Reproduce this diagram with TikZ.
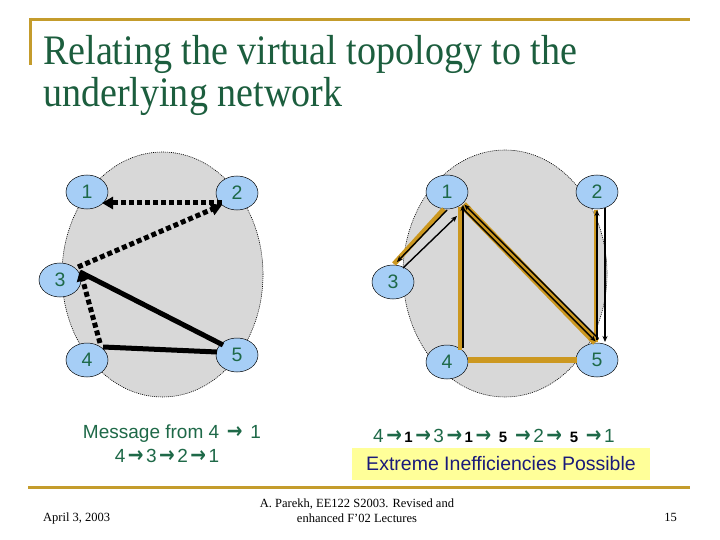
\documentclass[tikz,border=0pt]{standalone}
\usepackage{graphicx}
\usepackage{fontspec}
\setmainfont{Liberation Serif}
\setsansfont{Liberation Sans}
\newfontfamily\arialf{Liberation Sans}
\newfontfamily\dejavuf{DejaVu Sans}
\usetikzlibrary{arrows.meta,calc,shapes.geometric}
\definecolor{ttlgreen}{RGB}{28,94,62}
\definecolor{lblgreen}{RGB}{30,105,72}
\definecolor{slidegold}{RGB}{196,156,44}
\definecolor{linkgold}{RGB}{204,152,32}
\definecolor{nodeblue}{RGB}{166,206,246}
\definecolor{cloudgray}{RGB}{216,216,216}
\definecolor{navyblue}{RGB}{26,26,122}
\definecolor{hiyellow}{RGB}{255,255,153}
\newcommand{\bk}[1]{{\color{black}\bfseries\fontsize{15}{15}\selectfont #1}}
\newcommand{\ra}{\hspace{2.5pt}\scalebox{1.1}[1.3]{\dejavuf\bfseries\fontsize{17}{17}\selectfont →}\hspace{2.5pt}}
\begin{document}
\begin{tikzpicture}[x=1pt,y=-1pt,
  netnode/.style={ellipse,draw=black,line width=0.5pt,fill=nodeblue,minimum width=42pt,minimum height=34pt,inner sep=0pt,font=\arialf\fontsize{19.5}{19.5}\selectfont,text=lblgreen},
  cloud/.style={ellipse,draw=black,dash pattern=on 1pt off 1pt,line width=0.6pt,fill=cloudgray,inner sep=0pt},
  vdot/.style={line width=5pt,dash pattern=on 5pt off 3pt,-{Triangle[length=11pt,width=12pt]}},
  vsolid/.style={line width=5pt},
  phys/.style={draw=linkgold},
  hop/.style={line width=1.4pt,-{Stealth[length=6pt,width=5pt]}},
  lbl/.style={inner sep=0pt,font=\arialf\fontsize{19}{19}\selectfont,text=lblgreen},
  foot/.style={inner sep=0pt,font=\fontsize{12.5}{13}\selectfont,text=black},
  rule/.style={draw=slidegold,line width=3pt}
]
\useasboundingbox[fill=white] (0,0) rectangle (720,540);

% slide decoration
\draw[rule] (29,19.5) -- (690,19.5);
\draw[rule] (30.5,18) -- (30.5,65);
\draw[rule] (28,487) -- (690,487);

% title
\node[anchor=base west,inner sep=0pt,text=ttlgreen] (t1) at (43,65)
  {\resizebox{534pt}{\height}{\fontsize{42}{42}\selectfont Relating the virtual topology to the}};
\node[anchor=base west,inner sep=0pt,text=ttlgreen] (t2) at (43,107)
  {\resizebox{299pt}{\height}{\fontsize{42}{42}\selectfont underlying network}};

% clouds
\node[cloud,minimum width=201pt,minimum height=245pt] (cl) at (162.5,274.5) {};
\node[cloud,minimum width=204pt,minimum height=247pt] (cr) at (505,273.5) {};

% left nodes
\node[netnode] (L1) at (87,192) {1};
\node[netnode] (L2) at (237,193) {2};
\node[netnode] (L3) at (60,280) {3};
\node[netnode] (L4) at (87,360) {4};
\node[netnode] (L5) at (237,355) {5};

% right nodes
\node[netnode] (R1) at (447,192) {1};
\node[netnode] (R2) at (597,192) {2};
\node[netnode] (R3) at (393,282) {3};
\node[netnode] (R4) at (447,362) {4};
\node[netnode] (R5) at (597,360) {5};

% left virtual links
\draw[vsolid] ($(L5)+(-14,-10)$) -- ($(L3)+(20,-8)$);
\draw[vsolid] ($(L4)+(16,-13)$) -- ($(L5)+(-20,-3)$);
\draw[vdot] ($(L2)+(-15,10)$) -- ($(L1)+(15,11)$);
\draw[vdot] ($(L3)+(18,-13)$) -- ($(L2)+(-15,12)$);
\draw[vdot] ($(L4)+(13,-17)$) -- ($(L3)+(20,-10)$);

% right physical links
\draw[phys,line width=5pt] ($(R1)+(-3,17)$) -- ($(R3)+(1,-18)$);
\draw[phys,line width=4pt] ($(R1)+(13,15)$) -- ($(R4)+(13,-12)$);
\draw[phys,line width=8pt] ($(R1)+(16,13)$) -- ($(R5)+(-1,-18)$);
\draw[phys,line width=4pt] ($(R2)+(-1,18)$) -- ($(R5)+(-1,-18)$);
\draw[phys,line width=6pt] ($(R4)+(21,-2)$) -- ($(R5)+(-20,0)$);

% right hops
\draw[hop] ($(R1)+(0,18)$) -- ($(R3)+(4,-20)$);
\draw[hop] ($(R3)+(10,-14)$) -- ($(R1)+(10,24)$);
\draw[hop] ($(R4)+(16,-14)$) -- ($(R1)+(16,13)$);
\draw[hop] ($(R5)+(1.4,-21.4)$) -- ($(R1)+(17.4,12.6)$);
\draw[hop] ($(R1)+(14.6,15.4)$) -- ($(R5)+(-1.4,-18.6)$);
\draw[hop] ($(R5)+(0,-20)$) -- ($(R2)+(0,18)$);
\draw[hop] ($(R2)+(8,16)$) -- ($(R5)+(8,-18)$);

% captions
\node[lbl,anchor=base] (m1) at (172,438) {Message from 4 \ra\ 1};
\node[lbl,anchor=base] (m2) at (167,462) {4\ra3\ra2\ra1};
\node[lbl,anchor=base west] (seq) at (373,442)
  {4\ra\bk{1}\ra3\ra\bk{1}\ra\ \bk{5}\ \ra2\ra\ \bk{5}\ \ra1};
\node[fill=hiyellow,minimum width=298pt,minimum height=32pt,inner sep=0pt,
      font=\arialf\fontsize{19.5}{19.5}\selectfont,text=navyblue] (hl) at (501,464)
  {Extreme Inefficiencies Possible};

% footer
\node[foot,anchor=base west] (date) at (43,521) {April 3, 2003};
\node[foot,anchor=base] (src1) at (357,507) {A. Parekh, EE122 S2003. Revised and};
\node[foot,anchor=base] (src2) at (357,522) {enhanced F'02 Lectures};
\node[foot,anchor=base east] (pg) at (677,521) {15};
\end{tikzpicture}
\end{document}
